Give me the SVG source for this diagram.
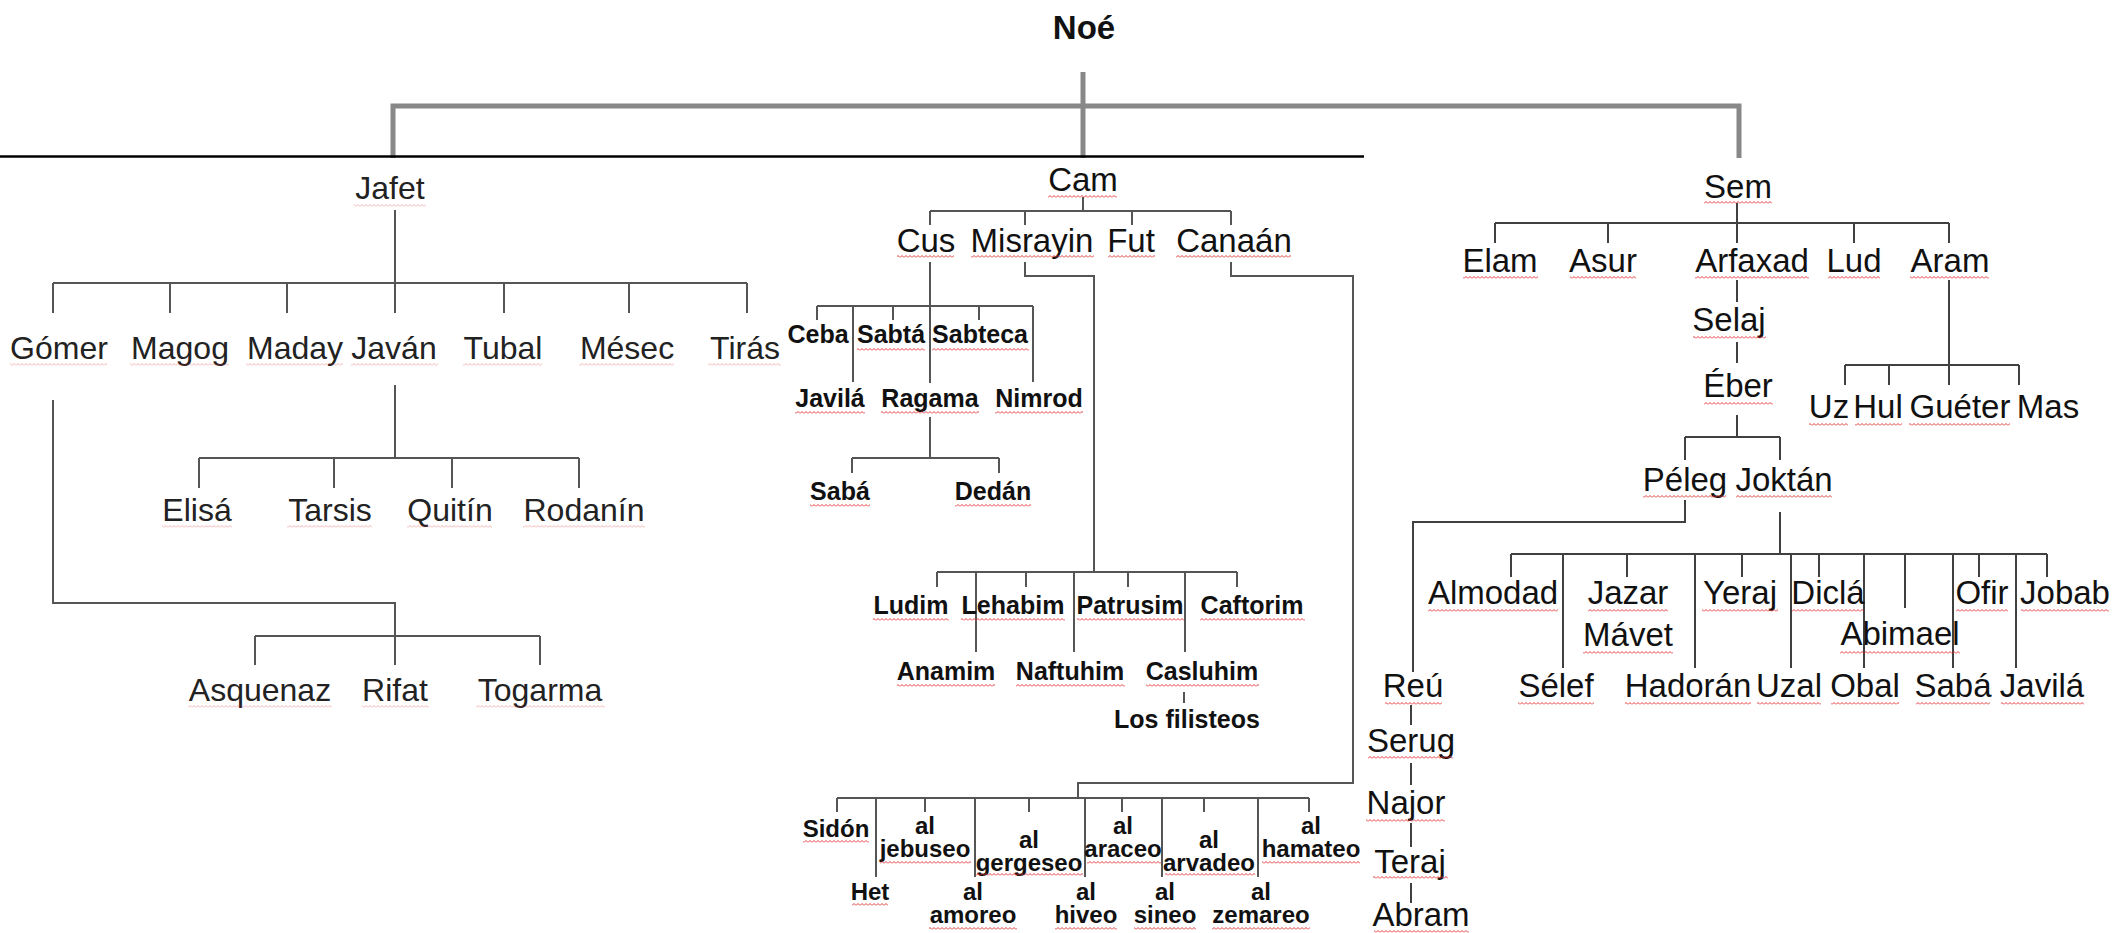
<svg xmlns="http://www.w3.org/2000/svg" width="2112" height="933" viewBox="0 0 2112 933">
<defs>
<pattern id="sqp" width="4" height="3" patternUnits="userSpaceOnUse"><path d="M0,2.5 L2,0.5 L4,2.5" fill="none" stroke="#e02828" stroke-width="0.9"/></pattern>
</defs>
<style>
text{font-family:"Liberation Sans",Arial,sans-serif;text-anchor:middle;fill:#111}
.j{font-size:32px;fill:#222}
.c{font-size:33px}
.s{font-size:33px}
.b{font-size:25px;font-weight:bold}
.k{font-size:24px;font-weight:bold}
.n{font-size:33px;font-weight:bold}
.sq{fill:url(#sqp)}
.sf{fill:url(#sqp);opacity:.4}
.ln{fill:none;stroke:#555;stroke-width:2}
.ls{fill:none;stroke:#404040;stroke-width:2}
.gl{fill:none;stroke:#888;stroke-width:5}
</style>
<rect width="2112" height="933" fill="#fff"/>
<g id="connectors">
<path class="gl" d="M1083,72 V158"/>
<path class="gl" d="M393,158 V106 H1739 V158"/>
<line x1="0" y1="156.5" x2="1364" y2="156.5" stroke="#000" stroke-width="2.5"/>
<path class="ln" d="M395,210 V313 M53,283 H747 M53,283 V313 M170,283 V313 M287,283 V313 M504,283 V313 M629,283 V313 M747,283 V313"/>
<path class="ln" d="M395,385 V458 M199,458 H579 M199,458 V488 M334,458 V488 M452,458 V488 M579,458 V488"/>
<path class="ln" d="M53,400 V603 H395 V665 M255,636 H540 M255,636 V665 M540,636 V665"/>
<path class="ln" d="M1083,197 V211 M930,211 H1231 M930,211 V225 M1025,211 V225 M1132,211 V225 M1231,211 V225"/>
<path class="ln" d="M930,262 V383 M817,306 H1033 M817,306 V320 M893,306 V320 M979,306 V320 M853,306 V382 M1033,306 V382"/>
<path class="ln" d="M930,417 V458 M852,458 H999 M852,458 V473 M999,458 V473"/>
<path class="ln" d="M1025,262 V276 H1094 V572 M937,572 H1237 M937,572 V587 M1026,572 V587 M1128,572 V587 M1237,572 V587 M976,572 V652 M1074,572 V652 M1185,572 V652 M1184,692 V703"/>
<path class="ln" d="M1231,262 V276 H1353 V783 H1078 V798 M837,798 H1309 M837,798 V812 M925,798 V812 M1029,798 V812 M1122,798 V812 M1204,798 V812 M1309,798 V812 M876,798 V877 M975,798 V877 M1085,798 V877 M1162,798 V877 M1258,798 V877"/>
<path class="ls" d="M1737,203 V243 M1495,223 H1949 M1495,223 V243 M1608,223 V243 M1854,223 V243 M1949,223 V243"/>
<path class="ls" d="M1737,280 V302 M1737,342 V363 M1737,415 V437 M1685,437 H1780 M1685,437 V460 M1780,437 V460"/>
<path class="ls" d="M1949,280 V385 M1845,365 H2019 M1845,365 V385 M1889,365 V385 M2019,365 V385"/>
<path class="ls" d="M1685,500 V522 H1413 V672 M1780,512 V554 M1511,554 H2047 M1511,554 V577 M1627,554 V577 M1742,554 V577 M1819,554 V577 M1979,554 V577 M2047,554 V577 M1905,554 V608 M1563,554 V668 M1695,554 V668 M1791,554 V668 M1864,554 V668 M1953,554 V668 M2016,554 V668"/>
<path class="ls" d="M1411,705 V725 M1411,763 V785 M1411,823 V847 M1411,883 V903"/>
</g>
<g id="n-noe"><text class="n" x="1084" y="39">Noé</text></g>
<g id="n-jafet"><text class="j" x="390" y="199">Jafet</text><rect class="sf" x="354" y="204" width="72" height="3"/></g>
<g id="n-gomer"><text class="j" x="59" y="359">Gómer</text><rect class="sf" x="10" y="363" width="97" height="3"/></g>
<g id="n-magog"><text class="j" x="180" y="359">Magog</text><rect class="sf" x="130" y="363" width="99" height="3"/></g>
<g id="n-maday"><text class="j" x="295" y="359">Maday</text><rect class="sf" x="246" y="363" width="97" height="3"/></g>
<g id="n-javan"><text class="j" x="394" y="359">Javán</text><rect class="sf" x="351" y="363" width="87" height="3"/></g>
<g id="n-tubal"><text class="j" x="503" y="359">Tubal</text><rect class="sf" x="463" y="363" width="79" height="3"/></g>
<g id="n-mesec"><text class="j" x="627" y="359">Mésec</text><rect class="sf" x="579" y="363" width="95" height="3"/></g>
<g id="n-tiras"><text class="j" x="745" y="359">Tirás</text><rect class="sf" x="708" y="363" width="73" height="3"/></g>
<g id="n-elisa"><text class="j" x="197" y="521">Elisá</text><rect class="sf" x="162" y="525" width="70" height="3"/></g>
<g id="n-tarsis"><text class="j" x="330" y="521">Tarsis</text><rect class="sf" x="287" y="525" width="85" height="3"/></g>
<g id="n-quitin"><text class="j" x="450" y="521">Quitín</text><rect class="sf" x="407" y="525" width="85" height="3"/></g>
<g id="n-rodanin"><text class="j" x="584" y="521">Rodanín</text><rect class="sf" x="523" y="525" width="122" height="3"/></g>
<g id="n-asquenaz"><text class="j" x="260" y="701">Asquenaz</text><rect class="sf" x="188" y="705" width="144" height="3"/></g>
<g id="n-rifat"><text class="j" x="395" y="701">Rifat</text><rect class="sf" x="362" y="705" width="67" height="3"/></g>
<g id="n-togarma"><text class="j" x="540" y="701">Togarma</text><rect class="sf" x="476" y="705" width="129" height="3"/></g>
<g id="n-cam"><text class="c" x="1083" y="191">Cam</text><rect class="sq" x="1048" y="195" width="69" height="3"/></g>
<g id="n-cus"><text class="c" x="926" y="252">Cus</text><rect class="sq" x="897" y="255" width="57" height="3"/></g>
<g id="n-misrayin"><text class="c" x="1032" y="252">Misrayin</text><rect class="sq" x="971" y="255" width="123" height="3"/></g>
<g id="n-fut"><text class="c" x="1131" y="252">Fut</text><rect class="sq" x="1108" y="255" width="47" height="3"/></g>
<g id="n-canaan"><text class="c" x="1234" y="252">Canaán</text><rect class="sq" x="1176" y="255" width="115" height="3"/></g>
<g id="n-ceba"><text class="b" x="818" y="343">Ceba</text></g>
<g id="n-sabta"><text class="b" x="891" y="343">Sabtá</text><rect class="sq" x="857" y="348" width="68" height="3"/></g>
<g id="n-sabteca"><text class="b" x="980" y="343">Sabteca</text><rect class="sq" x="932" y="348" width="97" height="3"/></g>
<g id="n-cam-javila"><text class="b" x="830" y="407">Javilá</text><rect class="sq" x="795" y="411" width="70" height="3"/></g>
<g id="n-ragama"><text class="b" x="930" y="407">Ragama</text><rect class="sq" x="881" y="411" width="98" height="3"/></g>
<g id="n-nimrod"><text class="b" x="1039" y="407">Nimrod</text><rect class="sq" x="995" y="411" width="88" height="3"/></g>
<g id="n-cam-saba"><text class="b" x="840" y="500">Sabá</text><rect class="sq" x="810" y="504" width="60" height="3"/></g>
<g id="n-dedan"><text class="b" x="993" y="500">Dedán</text><rect class="sq" x="955" y="504" width="76" height="3"/></g>
<g id="n-ludim"><text class="b" x="911" y="614">Ludim</text><rect class="sq" x="873" y="618" width="76" height="3"/></g>
<g id="n-lehabim"><text class="b" x="1013" y="614">Lehabim</text><rect class="sq" x="961" y="618" width="104" height="3"/></g>
<g id="n-patrusim"><text class="b" x="1130" y="614">Patrusim</text><rect class="sq" x="1077" y="618" width="107" height="3"/></g>
<g id="n-caftorim"><text class="b" x="1252" y="614">Caftorim</text><rect class="sq" x="1200" y="618" width="105" height="3"/></g>
<g id="n-anamim"><text class="b" x="946" y="680">Anamim</text><rect class="sq" x="897" y="684" width="98" height="3"/></g>
<g id="n-naftuhim"><text class="b" x="1070" y="680">Naftuhim</text><rect class="sq" x="1016" y="684" width="109" height="3"/></g>
<g id="n-casluhim"><text class="b" x="1202" y="680">Casluhim</text><rect class="sq" x="1146" y="684" width="113" height="3"/></g>
<g id="n-filisteos"><text class="b" x="1187" y="728">Los filisteos</text></g>
<g id="n-sidon"><text class="k" x="836" y="837">Sidón</text><rect class="sq" x="803" y="840" width="66" height="3"/></g>
<g id="n-jebuseo"><text class="k" x="925" y="834">al</text><text class="k" x="925" y="857">jebuseo</text><rect class="sq" x="880" y="861" width="91" height="3"/></g>
<g id="n-gergeseo"><text class="k" x="1029" y="848">al</text><text class="k" x="1029" y="871">gergeseo</text><rect class="sq" x="976" y="873" width="107" height="3"/></g>
<g id="n-araceo"><text class="k" x="1123" y="834">al</text><text class="k" x="1123" y="857">araceo</text><rect class="sq" x="1087" y="861" width="74" height="3"/></g>
<g id="n-arvadeo"><text class="k" x="1209" y="848">al</text><text class="k" x="1209" y="871">arvadeo</text><rect class="sq" x="1165" y="873" width="90" height="3"/></g>
<g id="n-hamateo"><text class="k" x="1311" y="834">al</text><text class="k" x="1311" y="857">hamateo</text><rect class="sq" x="1262" y="861" width="98" height="3"/></g>
<g id="n-het"><text class="k" x="870" y="900">Het</text><rect class="sq" x="852" y="903" width="36" height="3"/></g>
<g id="n-amoreo"><text class="k" x="973" y="900">al</text><text class="k" x="973" y="923">amoreo</text><rect class="sq" x="929" y="927" width="88" height="3"/></g>
<g id="n-hiveo"><text class="k" x="1086" y="900">al</text><text class="k" x="1086" y="923">hiveo</text><rect class="sq" x="1055" y="927" width="62" height="3"/></g>
<g id="n-sineo"><text class="k" x="1165" y="900">al</text><text class="k" x="1165" y="923">sineo</text><rect class="sq" x="1134" y="927" width="62" height="3"/></g>
<g id="n-zemareo"><text class="k" x="1261" y="900">al</text><text class="k" x="1261" y="923">zemareo</text><rect class="sq" x="1212" y="927" width="98" height="3"/></g>
<g id="n-sem"><text class="s" x="1738" y="198">Sem</text><rect class="sq" x="1704" y="201" width="68" height="3"/></g>
<g id="n-elam"><text class="s" x="1500" y="272">Elam</text><rect class="sq" x="1463" y="276" width="75" height="3"/></g>
<g id="n-asur"><text class="s" x="1603" y="272">Asur</text><rect class="sq" x="1570" y="276" width="66" height="3"/></g>
<g id="n-arfaxad"><text class="s" x="1752" y="272">Arfaxad</text><rect class="sq" x="1695" y="276" width="114" height="3"/></g>
<g id="n-lud"><text class="s" x="1854" y="272">Lud</text><rect class="sq" x="1828" y="276" width="52" height="3"/></g>
<g id="n-aram"><text class="s" x="1950" y="272">Aram</text><rect class="sq" x="1910" y="276" width="79" height="3"/></g>
<g id="n-selaj"><text class="s" x="1729" y="331">Selaj</text><rect class="sq" x="1693" y="336" width="73" height="3"/></g>
<g id="n-eber"><text class="s" x="1738" y="397">Éber</text><rect class="sq" x="1704" y="402" width="69" height="3"/></g>
<g id="n-peleg"><text class="s" x="1685" y="491">Péleg</text><rect class="sq" x="1643" y="495" width="83" height="3"/></g>
<g id="n-joktan"><text class="s" x="1784" y="491">Joktán</text><rect class="sq" x="1736" y="495" width="96" height="3"/></g>
<g id="n-uz"><text class="s" x="1829" y="418">Uz</text><rect class="sq" x="1809" y="423" width="39" height="3"/></g>
<g id="n-hul"><text class="s" x="1878" y="418">Hul</text><rect class="sq" x="1855" y="423" width="47" height="3"/></g>
<g id="n-gueter"><text class="s" x="1960" y="418">Guéter</text><rect class="sq" x="1909" y="423" width="101" height="3"/></g>
<g id="n-mas"><text class="s" x="2048" y="418">Mas</text></g>
<g id="n-almodad"><text class="s" x="1493" y="604">Almodad</text><rect class="sq" x="1428" y="609" width="130" height="3"/></g>
<g id="n-jazar"><text class="s" x="1628" y="604">Jazar</text><rect class="sq" x="1588" y="609" width="80" height="3"/></g>
<g id="n-yeraj"><text class="s" x="1740" y="604">Yeraj</text><rect class="sq" x="1702" y="609" width="76" height="3"/></g>
<g id="n-dicla"><text class="s" x="1828" y="604">Diclá</text><rect class="sq" x="1792" y="609" width="72" height="3"/></g>
<g id="n-ofir"><text class="s" x="1982" y="604">Ofir</text><rect class="sq" x="1956" y="609" width="52" height="3"/></g>
<g id="n-jobab"><text class="s" x="2065" y="604">Jobab</text><rect class="sq" x="2021" y="609" width="88" height="3"/></g>
<g id="n-mavet"><text class="s" x="1628" y="646">Mávet</text><rect class="sq" x="1583" y="651" width="90" height="3"/></g>
<g id="n-abimael"><text class="s" x="1900" y="645">Abimael</text><rect class="sq" x="1840" y="651" width="120" height="3"/></g>
<g id="n-reu"><text class="s" x="1413" y="697">Reú</text><rect class="sq" x="1385" y="702" width="57" height="3"/></g>
<g id="n-selef"><text class="s" x="1556" y="697">Sélef</text><rect class="sq" x="1518" y="702" width="76" height="3"/></g>
<g id="n-hadoran"><text class="s" x="1688" y="697">Hadorán</text><rect class="sq" x="1625" y="702" width="126" height="3"/></g>
<g id="n-uzal"><text class="s" x="1789" y="697">Uzal</text><rect class="sq" x="1757" y="702" width="64" height="3"/></g>
<g id="n-obal"><text class="s" x="1865" y="697">Obal</text><rect class="sq" x="1831" y="702" width="68" height="3"/></g>
<g id="n-sem-saba"><text class="s" x="1953" y="697">Sabá</text><rect class="sq" x="1916" y="702" width="74" height="3"/></g>
<g id="n-sem-javila"><text class="s" x="2042" y="697">Javilá</text><rect class="sq" x="2001" y="702" width="83" height="3"/></g>
<g id="n-serug"><text class="s" x="1411" y="752">Serug</text><rect class="sq" x="1368" y="756" width="85" height="3"/></g>
<g id="n-najor"><text class="s" x="1406" y="814">Najor</text><rect class="sq" x="1366" y="819" width="79" height="3"/></g>
<g id="n-teraj"><text class="s" x="1410" y="873">Teraj</text><rect class="sq" x="1373" y="876" width="75" height="3"/></g>
<g id="n-abram"><text class="s" x="1421" y="926">Abram</text><rect class="sq" x="1374" y="930" width="95" height="3"/></g>
</svg>
